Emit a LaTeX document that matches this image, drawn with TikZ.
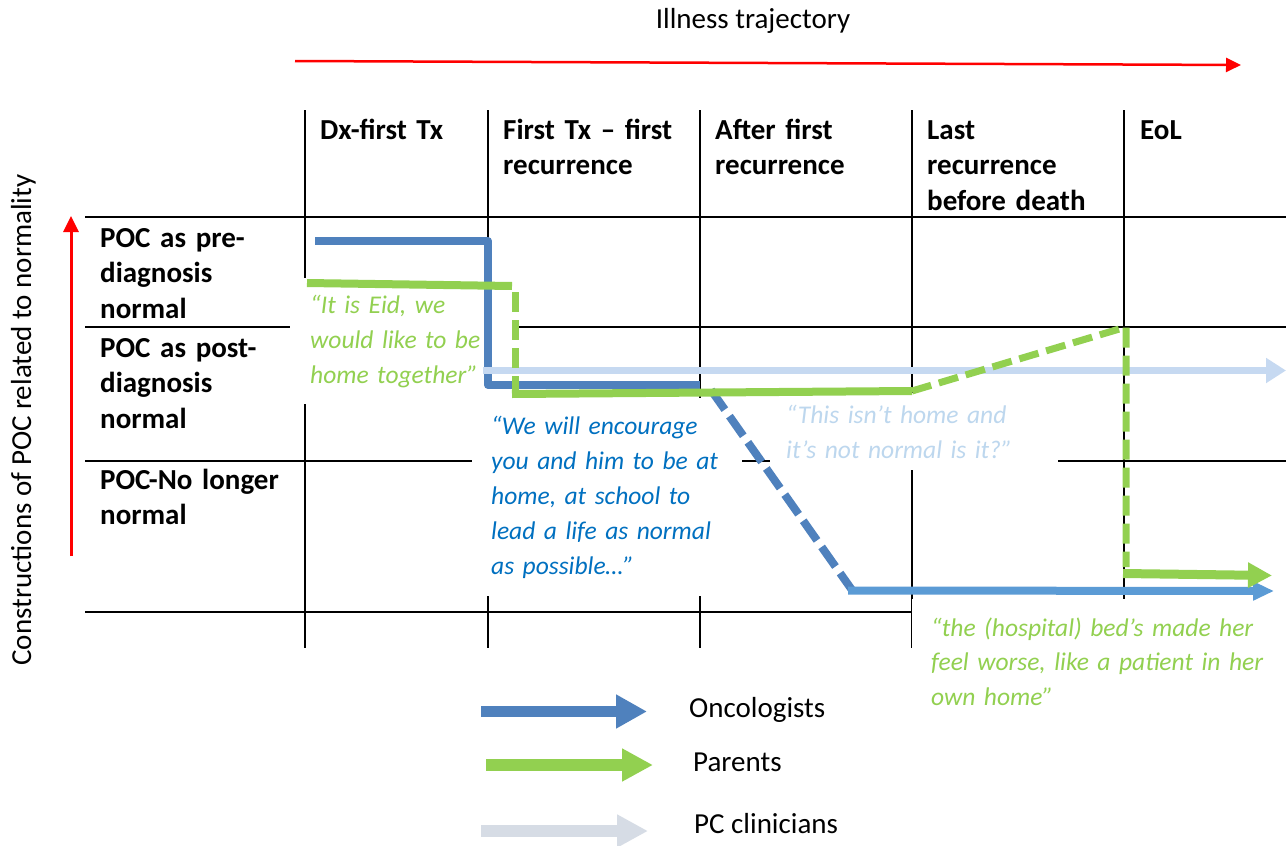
\documentclass[tikz,border=0pt]{standalone}
\usepackage{fontspec}
\setmainfont{Carlito}
\usetikzlibrary{arrows.meta}
\definecolor{onco}{HTML}{4F81BD}
\definecolor{oncolight}{HTML}{5B9BD5}
\definecolor{parent}{HTML}{92D050}
\definecolor{pcline}{HTML}{C6D9F1}
\definecolor{pctext}{HTML}{BDD7EE}
\definecolor{pclegend}{HTML}{D6DCE5}
\definecolor{quoteblue}{HTML}{0070C0}

\begin{document}
\begin{tikzpicture}[x=1bp,y=-1bp,
  grid/.style={black, line width=2bp},
  lbl/.style={font=\fontsize{29bp}{35.5bp}\selectfont\bfseries, anchor=base west,
    inner sep=0pt, align=left, text width=200bp},
  plain/.style={font=\fontsize{29bp}{35bp}\selectfont, inner sep=0pt},
  quote/.style={font=\fontsize{25.5bp}{35bp}\selectfont\itshape, anchor=base west,
    fill=white, align=left},
  track/.style={line width=8bp},
  dashA/.style={dash pattern=on 24bp off 8bp},
  dashB/.style={dash pattern=on 20bp off 8bp},
]
\useasboundingbox (0,0) rectangle (1286,846);
\fill[white] (0,0) rectangle (1286,846);

% table rules
\foreach \yy in {217,327,461,612} \draw[grid] (85,\yy) -- (1286,\yy);
\foreach \xx in {305,488,700,912,1124} \draw[grid] (\xx,110) -- (\xx,648);

% axes
\node[plain, anchor=base] (title) at (753,28) {Illness trajectory};
\coordinate (tA) at (295,61);
\coordinate (tB) at (1241,65);
\draw[red, line width=2.5bp, -{Triangle[length=15bp,width=14bp]}] (tA) -- (tB);
\coordinate (vA) at (71,556);
\coordinate (vB) at (71,216);
\draw[red, line width=3bp, -{Triangle[length=16bp,width=15bp]}] (vA) -- (vB);
\node[plain, anchor=base, rotate=90] (ylabel) at (31,420) {Constructions of POC related to normality};

% column headers
\node[lbl] (h1) at (320,139) {Dx-first Tx};
\node[lbl] (h2) at (503,139) {First Tx – first\\recurrence};
\node[lbl] (h3) at (715,139) {After first\\recurrence};
\node[lbl] (h4) at (927,139) {Last\\recurrence\\before death};
\node[lbl] (h5) at (1140,139) {EoL};

% row headers
\node[lbl] (r1) at (100,247) {POC as pre-\\diagnosis\\normal};
\node[lbl] (r2) at (100,357) {POC as post-\\diagnosis\\normal};
\node[lbl] (r3) at (100,489) {POC-No longer\\normal};

% quotations on white panels
\node[quote, text=parent, inner xsep=20bp, inner ysep=17bp, text width=188bp] (q1)
  at (290,313) {“It is Eid, we\\would like to be\\home together”};
\node[quote, text=quoteblue, inner xsep=19bp, inner ysep=18bp, text width=232bp] (q2)
  at (472,434) {“We will encourage\\you and him to be at\\home, at school to\\lead a life as normal\\as possible…”};
\node[quote, text=pctext, inner xsep=16bp, inner ysep=12bp, text width=256bp] (q3)
  at (770,423) {“This isn’t home and\\it’s not normal is it?”};
\node[quote, text=parent, inner xsep=19bp, inner ysep=18bp, text width=360bp,
  font=\fontsize{25.5bp}{34.5bp}\selectfont\itshape] (q4)
  at (912,636) {“the (hospital) bed’s made her\\feel worse, like a patient in her\\own home”};

% oncologists
\coordinate (o1) at (315,241);
\coordinate (o2) at (488,241);
\coordinate (o3) at (488,385);
\coordinate (o4) at (700,385);
\coordinate (o5) at (711,390);
\coordinate (o6) at (852,590);
\coordinate (o7) at (848,590.5);
\coordinate (o8) at (1274,591);
\draw[onco, track, line join=round] (o1) -- (o2) -- (o3) -- (o4);
\draw[onco, track, dashA] (o5) -- (o6);
\draw[oncolight, track, -{Triangle[length=21bp,width=18bp]}] (o7) -- (o8);

% palliative care clinicians
\coordinate (c1) at (483,370.5);
\coordinate (c2) at (1286,370.5);
\draw[pcline, line width=7.5bp, -{Triangle[length=20bp,width=24bp]}] (c1) -- (c2);

% parents
\coordinate (p1) at (307,283);
\coordinate (p2) at (512,286);
\coordinate (p3) at (515,292);
\coordinate (p4) at (515,390);
\coordinate (p5) at (512,394);
\coordinate (p6) at (912,391);
\coordinate (p7) at (1126,327);
\coordinate (p8) at (1126,567);
\coordinate (p9) at (1123,573.5);
\coordinate (p10) at (1272,575.5);
\draw[parent, track] (p1) -- (p2);
\draw[parent, line width=7bp, dashB] (p3) -- (p4);
\draw[parent, track] (p5) -- (p6);
\draw[parent, line width=7bp, dashB, line join=round] (p6) -- (p7) -- (p8);
\draw[parent, line width=9bp, -{Triangle[length=24bp,width=24bp]}] (p9) -- (p10);

% legend
\coordinate (l1a) at (481,711.5);
\coordinate (l1b) at (647,711.5);
\coordinate (l2a) at (486,765);
\coordinate (l2b) at (653,765);
\coordinate (l3a) at (481,831);
\coordinate (l3b) at (648,831);
\draw[onco, line width=11bp, -{Triangle[length=31bp,width=32bp]}] (l1a) -- (l1b);
\draw[parent, line width=12bp, -{Triangle[length=31bp,width=31bp]}] (l2a) -- (l2b);
\draw[pclegend, line width=12bp, -{Triangle[length=31bp,width=31bp]}] (l3a) -- (l3b);
\node[plain, anchor=base west] (leg1) at (689,717) {Oncologists};
\node[plain, anchor=base west] (leg2) at (693,771) {Parents};
\node[plain, anchor=base west] (leg3) at (694,833) {PC clinicians};
\end{tikzpicture}
\end{document}
